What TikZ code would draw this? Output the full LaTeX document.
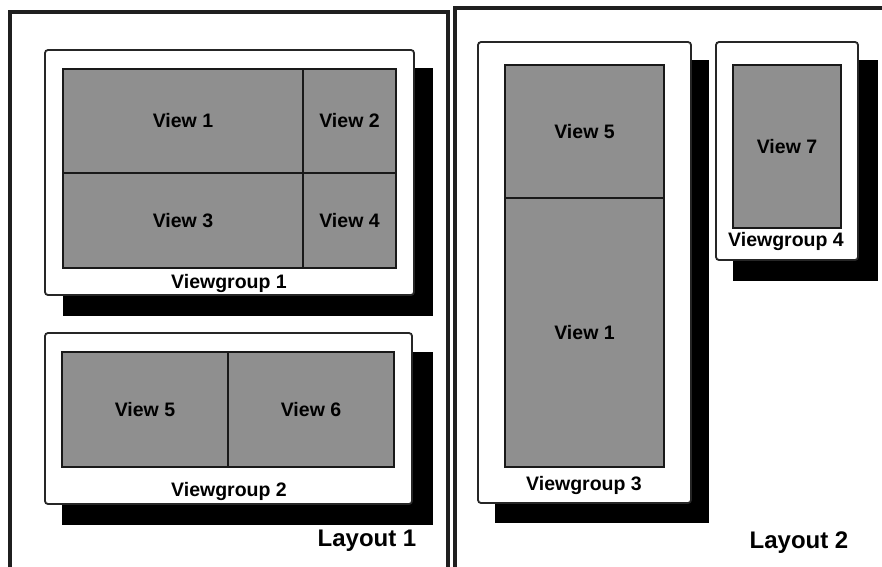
\documentclass[tikz,border=0pt]{standalone}
\usepackage{fontspec}
\setmainfont{Liberation Sans}
\begin{document}
\begin{tikzpicture}[x=1pt,y=-1pt,
  every node/.style={inner sep=0pt,outer sep=0pt},
  shadowbox/.style={fill=black,draw=black,line width=1pt,anchor=north west},
  groupbox/.style={fill=white,draw=black!85,line width=1.8pt,rounded corners=3pt,anchor=north west},
  viewbox/.style={fill=black!44,draw=black!90,line width=2.4pt,anchor=north west,
    font=\fontsize{19.5}{22}\selectfont\bfseries},
  lbl/.style={font=\fontsize{19.5}{22}\selectfont\bfseries},
  biglbl/.style={font=\fontsize{24}{28}\selectfont\bfseries},
  layoutline/.style={draw=black!88,line width=3.4pt}]
\useasboundingbox (0,0) rectangle (882,566);
\clip (0,0) rectangle (882,566);
\fill[white] (0,0) rectangle (882,566);
% Layout frames (open at bottom)
\coordinate (l1a) at (10,580);
\coordinate (l1b) at (10,12);
\coordinate (l1c) at (448,12);
\coordinate (l1d) at (448,580);
\draw[layoutline] (l1a) -- (l1b) -- (l1c) -- (l1d);
\coordinate (l2a) at (455,580);
\coordinate (l2b) at (455,8);
\coordinate (l2c) at (895,8);
\draw[layoutline] (l2a) -- (l2b) -- (l2c);
% Viewgroup 1
\node[shadowbox,minimum width=369pt,minimum height=247pt] (s1) at (63,68) {};
\node[groupbox,minimum width=369pt,minimum height=245pt] (g1) at (45,50) {};
\node[viewbox,minimum width=240pt,minimum height=104pt] (v1) at (63,69) {View 1};
\node[viewbox,minimum width=93pt,minimum height=104pt] (v2) at (303,69) {View 2};
\node[viewbox,minimum width=240pt,minimum height=95pt] (v3) at (63,173) {View 3};
\node[viewbox,minimum width=93pt,minimum height=95pt] (v4) at (303,173) {View 4};
\node[lbl] (t1) at (229,283) {Viewgroup 1};
% Viewgroup 2
\node[shadowbox,minimum width=370pt,minimum height=172pt] (s2) at (62,352) {};
\node[groupbox,minimum width=367pt,minimum height=171pt] (g2) at (45,333) {};
\node[viewbox,minimum width=166pt,minimum height=115pt] (v5) at (62,352) {View 5};
\node[viewbox,minimum width=166pt,minimum height=115pt] (v6) at (228,352) {View 6};
\node[lbl] (t2) at (229,491) {Viewgroup 2};
\node[biglbl] (L1) at (367,541) {Layout 1};
% Viewgroup 3
\node[shadowbox,minimum width=213pt,minimum height=462pt] (s3) at (495,60) {};
\node[groupbox,minimum width=213pt,minimum height=461pt] (g3) at (478,42) {};
\node[viewbox,minimum width=159pt,minimum height=133pt] (v5b) at (505,65) {View 5};
\node[viewbox,minimum width=159pt,minimum height=269pt] (v1b) at (505,198) {View 1};
\node[lbl] (t3) at (584,485) {Viewgroup 3};
% Viewgroup 4
\node[shadowbox,minimum width=144pt,minimum height=220pt] (s4) at (733,60) {};
\node[groupbox,minimum width=142pt,minimum height=218pt] (g4) at (716,42) {};
\node[viewbox,minimum width=108pt,minimum height=163pt] (v7) at (733,65) {View 7};
\node[lbl] (t4) at (786,241) {Viewgroup 4};
\node[biglbl] (L2) at (799,543) {Layout 2};
\end{tikzpicture}
\end{document}
